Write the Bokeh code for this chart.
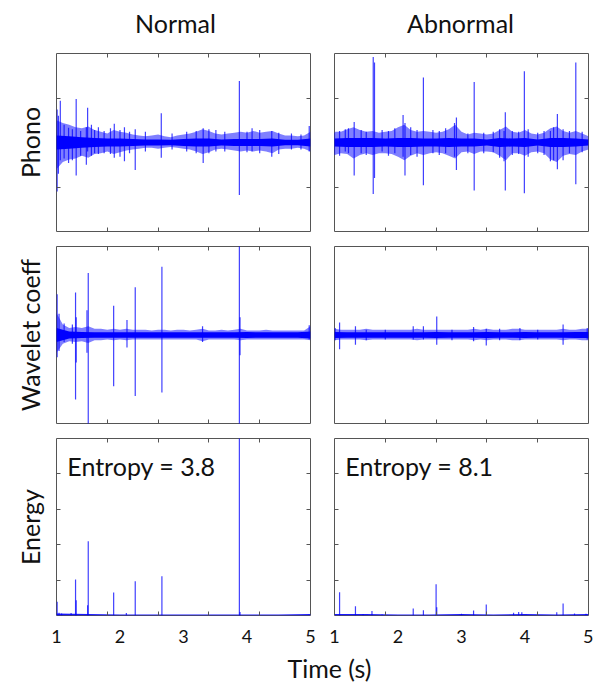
from bokeh.plotting import figure
from bokeh.layouts import column, row
from bokeh.models import Range1d, LinearAxis, FixedTicker, Label, ColumnDataSource
from bokeh.embed import file_html
from bokeh.resources import INLINE

FONT = "Lato"
BLUE = "#0000ff"
FRAME = "#555555"
TXT = "#111111"

col_titles = ["Normal", "Abnormal"]
row_labels = ["Phono", "Wavelet coeff", "Energy"]
x_tick_labels = [1, 2, 3, 4, 5]
entropy_text = ["Entropy = 3.8", "Entropy = 8.1"]

# time grids for the dense noise envelopes
t_env = [1.0, 1.1, 1.2, 1.3, 1.4, 1.5, 1.6, 1.7, 1.8, 1.9, 2.0, 2.1, 2.2, 2.3, 2.4, 2.5, 2.6, 2.7, 2.8, 2.9,
         3.0, 3.1, 3.2, 3.3, 3.4, 3.5, 3.6, 3.7, 3.8, 3.9, 4.0, 4.1, 4.2, 4.3, 4.4, 4.5, 4.6, 4.7, 4.8, 4.9, 5.0]
t_core = [1.0, 1.2, 1.4, 1.6, 1.8, 2.0, 2.2, 2.4, 2.6, 2.8, 3.0, 3.2, 3.4, 3.6, 3.8, 4.0, 4.2, 4.4, 4.6, 4.8, 5.0]

# ---- Phono, normal ----
phono_n_up = [0.25, 0.22, 0.20, 0.17, 0.16, 0.18, 0.14, 0.12, 0.10, 0.14, 0.12, 0.11, 0.09, 0.08, 0.07, 0.08, 0.09, 0.07, 0.06, 0.08,
              0.09, 0.10, 0.12, 0.15, 0.13, 0.10, 0.09, 0.10, 0.11, 0.12, 0.11, 0.13, 0.11, 0.12, 0.13, 0.10, 0.08, 0.08, 0.07, 0.08, 0.12]
phono_n_lo = [-0.30, -0.22, -0.19, -0.18, -0.15, -0.17, -0.13, -0.12, -0.10, -0.13, -0.11, -0.09, -0.08, -0.07, -0.06, -0.06, -0.07, -0.06, -0.05, -0.06,
              -0.07, -0.08, -0.10, -0.13, -0.11, -0.08, -0.07, -0.08, -0.09, -0.10, -0.09, -0.10, -0.09, -0.10, -0.12, -0.08, -0.07, -0.07, -0.06, -0.07, -0.10]
phono_n_core = [0.08, 0.07, 0.06, 0.05, 0.045, 0.045, 0.04, 0.035, 0.035, 0.03, 0.04, 0.045, 0.045, 0.035, 0.04, 0.04, 0.04, 0.045, 0.03, 0.03, 0.045]
phono_n_spk_t = [1.01, 1.03, 1.06, 1.12, 1.19, 1.25, 1.31, 1.38, 1.47, 1.49, 1.55, 1.60, 1.66, 1.75, 1.85, 1.91, 2.00, 2.07, 2.15, 2.24,
                 2.40, 2.65, 2.82, 3.05, 3.20, 3.31, 3.40, 3.51, 3.65, 3.88, 4.00, 4.08, 4.20, 4.39, 4.50, 4.70, 4.85, 4.98]
phono_n_spk_hi = [0.37, 0.30, 0.47, 0.20, 0.165, 0.15, 0.49, 0.13, 0.17, 0.39, 0.20, 0.14, 0.17, 0.13, 0.16, 0.21, 0.14, 0.17, 0.12, 0.15,
                  0.12, 0.33, 0.10, 0.12, 0.13, 0.16, 0.15, 0.14, 0.12, 0.69, 0.12, 0.16, 0.14, 0.13, 0.11, 0.10, 0.09, 0.185]
phono_n_spk_lo = [-0.55, -0.35, -0.20, -0.18, -0.23, -0.20, -0.37, -0.15, -0.25, -0.10, -0.15, -0.12, -0.13, -0.12, -0.13, -0.17, -0.16, -0.21, -0.12, -0.31,
                  -0.10, -0.17, -0.08, -0.10, -0.12, -0.23, -0.12, -0.10, -0.10, -0.59, -0.11, -0.10, -0.12, -0.16, -0.13, -0.08, -0.08, -0.10]

# ---- Phono, abnormal ----
phono_a_up = [0.12, 0.12, 0.15, 0.17, 0.14, 0.12, 0.13, 0.11, 0.12, 0.13, 0.17, 0.20, 0.14, 0.12, 0.13, 0.12, 0.11, 0.12, 0.15, 0.20,
              0.12, 0.09, 0.11, 0.10, 0.09, 0.10, 0.14, 0.18, 0.12, 0.11, 0.14, 0.10, 0.09, 0.11, 0.16, 0.18, 0.13, 0.11, 0.13, 0.10, 0.07]
phono_a_lo = [-0.14, -0.12, -0.13, -0.18, -0.14, -0.12, -0.14, -0.12, -0.12, -0.13, -0.16, -0.20, -0.15, -0.12, -0.14, -0.12, -0.11, -0.12, -0.15, -0.18,
              -0.11, -0.10, -0.13, -0.10, -0.10, -0.11, -0.15, -0.20, -0.12, -0.12, -0.15, -0.11, -0.10, -0.12, -0.19, -0.22, -0.15, -0.13, -0.14, -0.10, -0.08]
phono_a_core = [0.045, 0.05, 0.05, 0.05, 0.045, 0.05, 0.05, 0.045, 0.045, 0.05, 0.045, 0.045, 0.035, 0.05, 0.045, 0.05, 0.035, 0.05, 0.05, 0.045, 0.035]
phono_a_spk_t = [1.00, 1.08, 1.17, 1.22, 1.31, 1.42, 1.50, 1.61, 1.63, 1.75, 1.85, 1.95, 2.08, 2.11, 2.20, 2.30, 2.40, 2.55, 2.65, 2.75,
                 2.89, 2.92, 3.10, 3.20, 3.35, 3.50, 3.60, 3.67, 3.69, 3.80, 3.90, 3.99, 4.05, 4.20, 4.30, 4.40, 4.45, 4.51, 4.60, 4.70,
                 4.80, 4.90]
phono_a_spk_hi = [0.11, 0.13, 0.15, 0.16, 0.23, 0.14, 0.12, 0.96, 0.90, 0.14, 0.13, 0.16, 0.31, 0.22, 0.17, 0.14, 0.73, 0.14, 0.13, 0.16,
                  0.22, 0.28, 0.10, 0.68, 0.11, 0.12, 0.15, 0.13, 0.34, 0.13, 0.12, 0.80, 0.15, 0.11, 0.13, 0.13, 0.17, 0.32, 0.15, 0.13,
                  0.90, 0.12]
phono_a_spk_lo = [-0.14, -0.15, -0.10, -0.12, -0.37, -0.12, -0.14, -0.58, -0.40, -0.10, -0.15, -0.12, -0.16, -0.37, -0.14, -0.16, -0.48, -0.12, -0.14, -0.12,
                  -0.16, -0.31, -0.12, -0.54, -0.12, -0.11, -0.17, -0.21, -0.54, -0.14, -0.13, -0.57, -0.16, -0.12, -0.14, -0.21, -0.20, -0.30, -0.20, -0.12,
                  -0.47, -0.11]

# ---- Wavelet coefficients, normal ----
wav_n_up = [0.25, 0.12, 0.08, 0.09, 0.08, 0.10, 0.07, 0.07, 0.06, 0.07, 0.06, 0.07, 0.06, 0.06, 0.06, 0.05, 0.06, 0.06, 0.05, 0.06,
            0.06, 0.05, 0.06, 0.07, 0.05, 0.05, 0.06, 0.05, 0.06, 0.07, 0.05, 0.05, 0.05, 0.06, 0.05, 0.05, 0.05, 0.05, 0.05, 0.05, 0.10]
wav_n_lo = [-0.20, -0.10, -0.07, -0.08, -0.07, -0.09, -0.06, -0.06, -0.05, -0.06, -0.05, -0.06, -0.05, -0.05, -0.05, -0.05, -0.05, -0.05, -0.05, -0.05,
            -0.05, -0.05, -0.05, -0.07, -0.05, -0.05, -0.05, -0.05, -0.05, -0.06, -0.05, -0.05, -0.05, -0.05, -0.05, -0.05, -0.05, -0.05, -0.05, -0.05, -0.06]
wav_n_core = [0.08, 0.04, 0.035, 0.03, 0.03, 0.03, 0.03, 0.03, 0.03, 0.03, 0.03, 0.03, 0.03, 0.03, 0.03, 0.035, 0.03, 0.03, 0.03, 0.03, 0.04]
wav_n_spk_t = [1.01, 1.04, 1.12, 1.25, 1.30, 1.31, 1.48, 1.50, 1.90, 2.11, 2.24, 2.66, 3.30, 3.88, 3.89, 4.98]
wav_n_spk_hi = [0.46, 0.24, 0.13, 0.12, 0.48, 0.20, 0.28, 0.70, 0.33, 0.17, 0.54, 0.77, 0.10, 1.05, 0.20, 0.11]
wav_n_spk_lo = [-0.25, -0.18, -0.08, -0.10, -0.73, -0.31, -0.20, -1.05, -0.58, -0.14, -0.69, -0.65, -0.08, -1.05, -0.23, -0.05]

# ---- Wavelet coefficients, abnormal ----
wav_a_up = [0.07, 0.06, 0.06, 0.06, 0.06, 0.07, 0.06, 0.06, 0.06, 0.06, 0.06, 0.06, 0.06, 0.07, 0.06, 0.06, 0.06, 0.06, 0.06, 0.06,
            0.06, 0.06, 0.07, 0.06, 0.07, 0.06, 0.06, 0.06, 0.07, 0.07, 0.06, 0.06, 0.06, 0.06, 0.06, 0.06, 0.07, 0.06, 0.06, 0.07, 0.07]
wav_a_lo = [-0.06, -0.05, -0.05, -0.05, -0.05, -0.06, -0.05, -0.05, -0.05, -0.05, -0.05, -0.05, -0.05, -0.06, -0.05, -0.05, -0.05, -0.05, -0.05, -0.05,
            -0.05, -0.05, -0.06, -0.05, -0.06, -0.05, -0.05, -0.05, -0.06, -0.06, -0.05, -0.05, -0.05, -0.05, -0.05, -0.05, -0.06, -0.05, -0.05, -0.06, -0.06]
wav_a_core = [0.035, 0.03, 0.03, 0.03, 0.03, 0.03, 0.03, 0.03, 0.035, 0.03, 0.03, 0.03, 0.035, 0.03, 0.03, 0.035, 0.03, 0.03, 0.03, 0.035, 0.035]
wav_a_spk_t = [1.01, 1.08, 1.33, 1.50, 1.80, 2.24, 2.40, 2.61, 2.85, 3.19, 3.39, 3.60, 3.92, 4.20, 4.60, 4.98]
wav_a_spk_hi = [0.08, 0.14, 0.10, 0.06, 0.06, 0.10, 0.10, 0.21, 0.06, 0.09, 0.07, 0.07, 0.08, 0.06, 0.12, 0.08]
wav_a_spk_lo = [-0.06, -0.16, -0.11, -0.06, -0.05, -0.05, -0.05, -0.11, -0.06, -0.07, -0.12, -0.06, -0.06, -0.05, -0.11, -0.05]

# ---- Energy ----
t_base = [1.0, 1.5, 2.0, 2.5, 3.0, 3.5, 4.0, 4.5, 5.0]
energy_n_base = [0.06, 0.04, 0.03, 0.03, 0.03, 0.03, 0.03, 0.03, 0.04]
energy_a_base = [0.04, 0.04, 0.03, 0.03, 0.04, 0.03, 0.04, 0.03, 0.04]
energy_n_t = [1.01, 1.04, 1.08, 1.23, 1.30, 1.31, 1.49, 1.50, 1.90, 2.10, 2.24, 2.66, 3.88, 3.89]
energy_n_v = [0.39, 0.08, 0.06, 0.07, 1.02, 0.43, 0.29, 2.10, 0.65, 0.07, 0.97, 1.11, 5.20, 0.10]
energy_a_t = [1.08, 1.33, 1.45, 1.59, 1.75, 2.24, 2.40, 2.60, 2.61, 3.00, 3.19, 3.39, 3.82, 3.90, 3.95, 4.50, 4.60, 4.78, 4.96]
energy_a_v = [0.66, 0.26, 0.04, 0.13, 0.03, 0.20, 0.15, 0.88, 0.23, 0.05, 0.14, 0.31, 0.08, 0.10, 0.09, 0.09, 0.34, 0.06, 0.05]

signals = [
    [(phono_n_up, phono_n_lo, phono_n_core, phono_n_spk_t, phono_n_spk_hi, phono_n_spk_lo),
     (phono_a_up, phono_a_lo, phono_a_core, phono_a_spk_t, phono_a_spk_hi, phono_a_spk_lo)],
    [(wav_n_up, wav_n_lo, wav_n_core, wav_n_spk_t, wav_n_spk_hi, wav_n_spk_lo),
     (wav_a_up, wav_a_lo, wav_a_core, wav_a_spk_t, wav_a_spk_hi, wav_a_spk_lo)],
]
energies = [(energy_n_base, energy_n_t, energy_n_v), (energy_a_base, energy_a_t, energy_a_v)]

y_ranges = [(-1, 1), (-1, 1), (0, 5)]
y_minor = [[-0.5, 0.5], [], [1, 2, 3, 4]]
x_minor = [1.8, 2.6, 3.4, 4.2]


def style_axis(ax, ticks, minor, show_labels=False):
    ax.ticker = FixedTicker(ticks=ticks, minor_ticks=minor)
    ax.axis_line_color = None
    ax.major_tick_in = 0
    ax.major_tick_out = 0
    ax.major_tick_line_color = None
    ax.minor_tick_in = 4
    ax.minor_tick_out = 0
    ax.minor_tick_line_color = FRAME
    ax.major_label_standoff = 14 if show_labels else 0
    ax.major_label_text_font = FONT
    ax.major_label_text_font_size = "18px" if show_labels else "0px"
    ax.major_label_text_color = TXT


def blank_fig(width, height):
    f = figure(width=width, height=height, x_range=Range1d(0, width), y_range=Range1d(0, height),
               output_backend="svg", toolbar_location=None, tools="", title=None,
               min_border=0, min_border_left=0, min_border_right=0, min_border_top=0, min_border_bottom=0,
               x_axis_location=None, y_axis_location=None)
    f.outline_line_color = None
    f.grid.visible = False
    return f


def panel(r, c):
    left = c == 0
    p = figure(frame_width=254, frame_height=[178, 177, 177][r],
               min_border_left=56 if left else 12, min_border_right=12 if left else 5,
               min_border_top=[8, 7, 7][r], min_border_bottom=[8, 8, 37][r],
               x_range=Range1d(1, 5), y_range=Range1d(*y_ranges[r]), title=None,
               output_backend="svg", toolbar_location=None, tools="")
    p.outline_line_color = FRAME
    p.outline_line_alpha = 1
    p.outline_line_width = 1
    p.grid.visible = False
    p.background_fill_color = "white"
    p.border_fill_color = "white"

    style_axis(p.xaxis[0], x_tick_labels if r == 2 else [], x_minor, show_labels=(r == 2))
    style_axis(p.yaxis[0], [], y_minor[r])
    top = LinearAxis()
    style_axis(top, [], x_minor)
    p.add_layout(top, "above")
    right = LinearAxis()
    style_axis(right, [], y_minor[r])
    p.add_layout(right, "right")

    if left:
        ya = p.yaxis[0]
        ya.axis_label = row_labels[r]
        ya.axis_label_text_font = FONT
        ya.axis_label_text_font_size = "25px"
        ya.axis_label_text_font_style = "normal"
        ya.axis_label_text_color = TXT
        ya.axis_label_standoff = 12

    if r < 2:
        up, lo, core, st, shi, slo = signals[r][c]
        p.varea(x=t_env, y1=lo, y2=up, fill_color=BLUE, fill_alpha=0.5)
        p.varea(x=t_core, y1=[-v for v in core], y2=core, fill_color=BLUE, fill_alpha=1.0)
        src = ColumnDataSource(dict(t=st, hi=shi, lo=slo))
        p.segment(x0="t", y0="lo", x1="t", y1="hi", source=src,
                  line_color=BLUE, line_width=1.2, line_alpha=0.75)
    else:
        base, et, ev = energies[c]
        p.varea(x=t_base, y1=0, y2=base, fill_color=BLUE, fill_alpha=0.9)
        src = ColumnDataSource(dict(t=et, v=ev))
        p.segment(x0="t", y0=0, x1="t", y1="v", source=src,
                  line_color=BLUE, line_width=1.2, line_alpha=0.75)
        p.add_layout(Label(x=1.17, y=4.22, text=entropy_text[c], text_font=FONT,
                           text_font_size="25px", text_color=TXT, text_baseline="alphabetic"))
    return p


# header with the two column titles
hdr = blank_fig(593, 45)
for xpos, ttl in zip([175, 460], col_titles):
    hdr.add_layout(Label(x=xpos, y=23, text=ttl, text_font=FONT, text_font_size="25px",
                         text_color=TXT, text_align="center", text_baseline="alphabetic"))

rows = [row(panel(r, 0), panel(r, 1)) for r in range(3)]

# shared x-axis title
xl = blank_fig(593, 30)
xl.add_layout(Label(x=329, y=15, text="Time (s)", text_font=FONT, text_font_size="25px",
                    text_color=TXT, text_align="center", text_baseline="alphabetic"))

layout = column(hdr, *rows, xl)
open("out.html", "w").write(file_html(layout, INLINE))
